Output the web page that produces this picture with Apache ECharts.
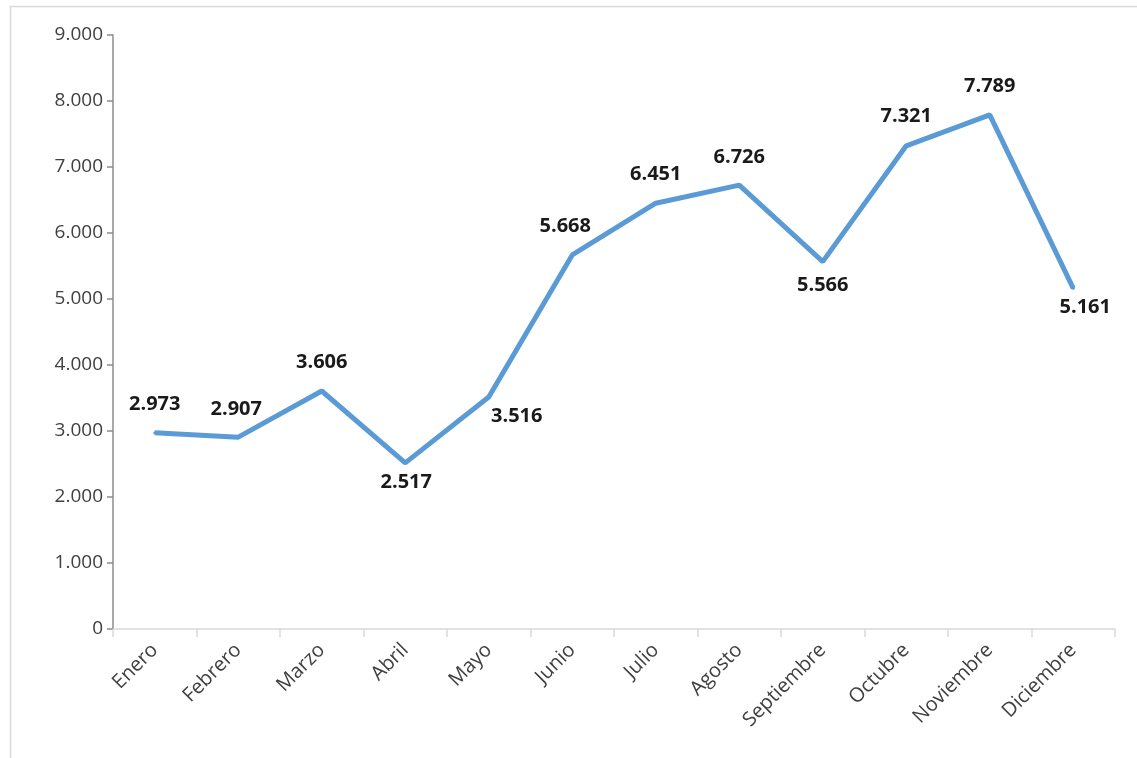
<!DOCTYPE html>
<html><head><meta charset="utf-8">
<script src="https://cdn.jsdelivr.net/npm/echarts@6/dist/echarts.min.js"></script>
<style>html,body{margin:0;padding:0;background:#fff}#c{width:1137px;height:758px}</style>
</head><body><div id="c"></div>
<script>
const categories = ['Enero','Febrero','Marzo','Abril','Mayo','Junio','Julio','Agosto','Septiembre','Octubre','Noviembre','Diciembre'];
const values = [2973, 2907, 3606, 2517, 3516, 5668, 6451, 6726, 5566, 7321, 7789, 5161];
// label placement relative to each point (style config, not data)
const labelDx = [0, -2, 0, 1, 28, -7, 0, 0, 0, 0, 0, 12];
const labelDy = [-28, -28, -29, 19, 19, -29, -29, -28, 24, -30, -29, 19];

function fmt(v){ return String(v).replace(/\B(?=(\d{3})+(?!\d))/g, '.'); }

const SYM = 3;
const chart = echarts.init(document.getElementById('c'), null, {renderer:'canvas'});
chart.setOption({
  animation: false,
  backgroundColor: '#fff',
  graphic: [{
    type: 'rect', shape: {x: 10.5, y: 6.5, width: 1140, height: 760},
    style: {fill: 'none', stroke: '#d9d9d9', lineWidth: 1.5}, silent: true
  }],
  grid: {left: 113, right: 22, top: 35, bottom: 129, containLabel: false},
  xAxis: {
    type: 'category', data: categories, boundaryGap: true,
    axisLine: {show: true, lineStyle: {color: '#d9d9d9', width: 1.5}},
    axisTick: {show: true, alignWithLabel: false, length: 8, lineStyle: {color: '#d9d9d9', width: 1.5}},
    axisLabel: {rotate: 45, interval: 0, color: '#404040', fontFamily: 'Open Sans', fontSize: 20, margin: 18}
  },
  yAxis: {
    type: 'value', min: 0, max: 9000, interval: 1000,
    axisLine: {show: true, lineStyle: {color: '#8c8c8c', width: 1.5}},
    axisTick: {show: true, length: 6, lineStyle: {color: '#8c8c8c', width: 1.5}},
    splitLine: {show: false},
    axisLabel: {color: '#404040', fontFamily: 'Open Sans', fontSize: 19, margin: 10, formatter: v => fmt(v)}
  },
  series: [{
    type: 'line',
    data: values.map((v, i) => ({
      value: v,
      label: {show: true, position: [SYM/2 + labelDx[i], SYM/2 + labelDy[i]], align: 'center', verticalAlign: 'middle'}
    })),
    symbol: 'circle', symbolSize: SYM, showSymbol: true,
    itemStyle: {color: '#5b9bd5'},
    lineStyle: {color: '#5b9bd5', width: 5},
    labelLayout: {hideOverlap: false},
    label: {
      show: true, color: '#1a1a1a', fontWeight: 'bold',
      fontFamily: 'Open Sans', fontSize: 20,
      formatter: p => fmt(p.value)
    }
  }]
});
</script></body></html>
